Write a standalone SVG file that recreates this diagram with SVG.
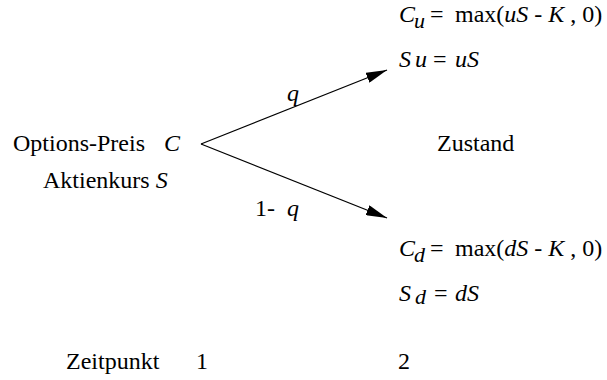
<svg xmlns="http://www.w3.org/2000/svg" width="607" height="380" viewBox="0 0 607 380" font-family="'Liberation Serif', 'Times New Roman', serif">
<defs>
<style>
text{font-family:"Liberation Serif","Times New Roman",serif;font-size:24px;fill:#000}
.i{font-style:italic}
.sub{font-style:italic;font-size:22px}
line{stroke:#000;stroke-width:1.3}
</style>
<marker id="ah" viewBox="0 0 20 10" refX="20" refY="5" markerWidth="21" markerHeight="10.5" markerUnits="userSpaceOnUse" orient="auto">
<path d="M0,0 L20,5 L0,10 z" fill="#000"/>
</marker>
</defs>
<g id="connectors">
<line x1="201" y1="144" x2="387" y2="70" marker-end="url(#ah)"/>
<line x1="201" y1="144" x2="387" y2="218" marker-end="url(#ah)"/>
<text x="287" y="101" class="i">q</text>
<text x="255" y="216">1-</text>
<text x="287" y="216" class="i">q</text>
</g>
<g id="start">
<text x="13" y="151">Options-Preis</text>
<text x="164" y="151" class="i">C</text>
<text x="43" y="188">Aktienkurs <tspan class="i">S</tspan></text>
</g>
<g id="up">
<text x="399" y="22" class="i">C</text>
<text x="414" y="28" class="sub">u</text>
<text x="430" y="22">=</text>
<text x="455" y="22">max(<tspan class="i">uS</tspan> - <tspan class="i">K</tspan> , 0)</text>
<text x="399" y="67" class="i">S</text>
<text x="415" y="67" class="i">u</text>
<text x="433" y="67">=</text>
<text x="455" y="67" class="i">uS</text>
</g>
<g id="state">
<text x="437" y="151">Zustand</text>
</g>
<g id="down">
<text x="399" y="256" class="i">C</text>
<text x="414" y="262" class="sub">d</text>
<text x="430" y="256">=</text>
<text x="455" y="256">max(<tspan class="i">dS</tspan> - <tspan class="i">K</tspan> , 0)</text>
<text x="399" y="301" class="i">S</text>
<text x="415" y="304" class="sub">d</text>
<text x="434" y="301">=</text>
<text x="455" y="301" class="i">dS</text>
</g>
<g id="time">
<text x="66" y="369">Zeitpunkt</text>
<text x="196" y="369">1</text>
<text x="398" y="369">2</text>
</g>
</svg>
